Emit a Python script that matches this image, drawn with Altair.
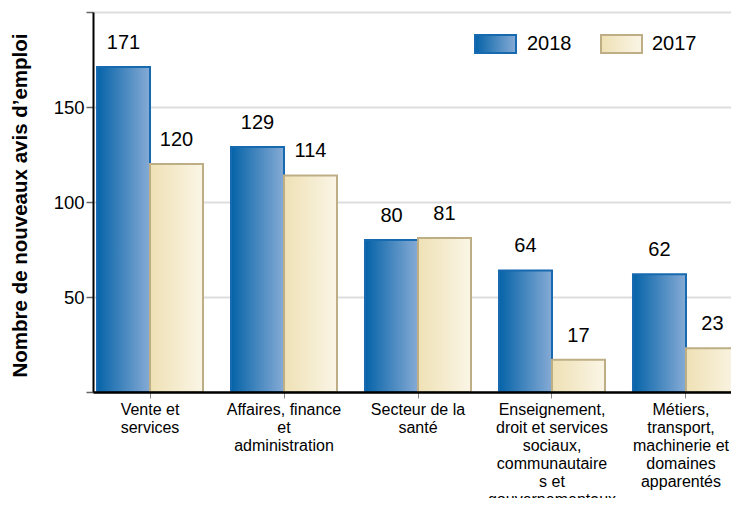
import altair as alt
import pandas as pd

categories = [
    "Vente et\nservices",
    "Affaires, finance\net\nadministration",
    "Secteur de la\nsanté",
    "Enseignement,\ndroit et services\nsociaux,\ncommunautaire\ns et\ngouvernementaux",
    "Métiers,\ntransport,\nmachinerie et\ndomaines\napparentés",
]
series = ["2018", "2017"]
values_2018 = [171, 129, 80, 64, 62]
values_2017 = [120, 114, 81, 17, 23]
y_title = "Nombre de nouveaux avis d\u2019emploi"

rows = []
for c, a, b in zip(categories, values_2018, values_2017):
    rows.append({"cat": c, "series": "2018", "value": a})
    rows.append({"cat": c, "series": "2017", "value": b})
df = pd.DataFrame(rows)
legend_df = pd.DataFrame({"series": series})

grad_2018 = {"gradient": "linear", "x1": 0, "x2": 1, "y1": 0, "y2": 0,
             "stops": [{"offset": 0, "color": "#0563a8"}, {"offset": 1, "color": "#86abd5"}]}
grad_2017 = {"gradient": "linear", "x1": 0, "x2": 1, "y1": 0, "y2": 0,
             "stops": [{"offset": 0, "color": "#efe1b5"}, {"offset": 1, "color": "#faf5e6"}]}
stroke_2018 = "#1769b0"
stroke_2017 = "#bdae86"

x_enc = alt.X("cat:N", sort=categories, title=None,
              scale=alt.Scale(paddingInner=0.209, paddingOuter=0.03, range=[0, 650]),
              axis=alt.Axis(labelExpr="split(datum.label, '\\n')", labelAngle=0,
                            labelFont="Liberation Sans",
                            labelFontSize=16, labelLineHeight=18, labelColor="#000000",
                            labelLimit=0, labelPadding=3, labelBaseline="top",
                            labelOffset={"condition": {"test": "datum.index == 1", "value": -5},
                                         "value": 0},
                            domainColor="#000000", domainWidth=2.5,
                            tickColor="#888888", tickSize=6, tickWidth=1,
                            grid=False, zindex=1))
xo_enc = alt.XOffset("series:N", scale=alt.Scale(domain=series, paddingInner=0, paddingOuter=0))
y_enc = alt.Y("value:Q", title=y_title,
              scale=alt.Scale(domain=[0, 200], nice=False),
              axis=alt.Axis(values=[0, 50, 100, 150, 200],
                            labelExpr="datum.value == 0 || datum.value == 200 ? '' : datum.label",
                            labelFont="Liberation Sans", labelFontSize=18.5, labelColor="#000000",
                            labelPadding=2,
                            tickColor="#666666", tickSize=7, tickWidth=1.5,
                            domainColor="#000000", domainWidth=2,
                            gridColor="#dddddd", gridWidth=2,
                            titleFont="Liberation Sans", titleFontSize=20.5, titleFontWeight="bold",
                            titleColor="#000000", titleX=-73, titleY=193, titleAngle=270,
                            titleAlign="center", titleBaseline="middle", zindex=0))

bars = alt.Chart(df).mark_bar(strokeWidth=2).encode(
    x=x_enc, xOffset=xo_enc, y=y_enc,
    fill=alt.condition("datum.series == '2018'", alt.value(grad_2018), alt.value(grad_2017)),
    stroke=alt.condition("datum.series == '2018'", alt.value(stroke_2018), alt.value(stroke_2017)),
)

labels = alt.Chart(df).mark_text(dy=-18, baseline="alphabetic", align="center",
                                 font="Liberation Sans", fontSize=20, color="#000000").encode(
    x=alt.X("cat:N", sort=categories), xOffset=xo_enc, y="value:Q", text="value:Q"
)

leg_rect_a = alt.Chart(legend_df).transform_filter("datum.series == '2018'").mark_rect(
    fill=grad_2018, stroke=stroke_2018, strokeWidth=2).encode(
    x=alt.value(382), x2=alt.value(423), y=alt.value(23), y2=alt.value(41))
leg_text_a = alt.Chart(legend_df).transform_filter("datum.series == '2018'").mark_text(
    align="left", baseline="middle", font="Liberation Sans", fontSize=20, color="#000000").encode(
    x=alt.value(434), y=alt.value(32), text="series:N")
leg_rect_b = alt.Chart(legend_df).transform_filter("datum.series == '2017'").mark_rect(
    fill=grad_2017, stroke=stroke_2017, strokeWidth=2).encode(
    x=alt.value(508), x2=alt.value(549), y=alt.value(23), y2=alt.value(41))
leg_text_b = alt.Chart(legend_df).transform_filter("datum.series == '2017'").mark_text(
    align="left", baseline="middle", font="Liberation Sans", fontSize=20, color="#000000").encode(
    x=alt.value(559), y=alt.value(32), text="series:N")

chart = alt.layer(bars, labels, leg_rect_a, leg_text_a, leg_rect_b, leg_text_b).properties(
    width=638, height=380,
    autosize=alt.AutoSizeParams(type="none"),
    padding={"left": 85, "top": 4, "right": 0, "bottom": 106},
).configure_view(stroke="transparent").configure(background="#ffffff")

chart.save("out.html", embed_options={"renderer": "svg", "actions": False})
